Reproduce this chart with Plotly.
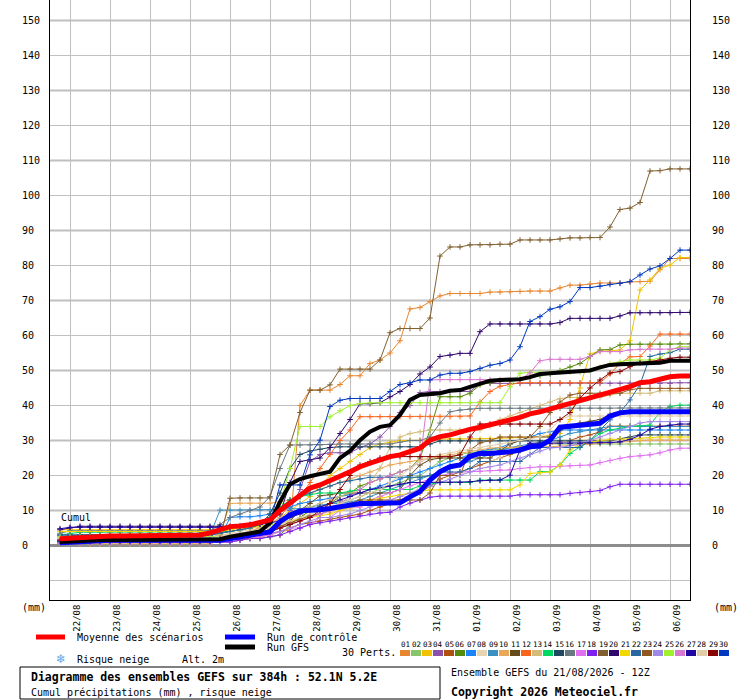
import datetime as dt
import plotly.graph_objects as go

# GEFS run 21/08/2026 12Z, one value every 6 h from +6h to +384h (64 steps)
RUN_START = dt.datetime(2026, 8, 21, 12)
STEP_H = 6
N_DAYS = 16

DAY_LABELS = ["22/08", "23/08", "24/08", "25/08", "26/08", "27/08", "28/08", "29/08",
              "30/08", "31/08", "01/09", "02/09", "03/09", "04/09", "05/09", "06/09"]
Y_TICKS = [0, 10, 20, 30, 40, 50, 60, 70, 80, 90, 100, 110, 120, 130, 140, 150]

mean_run = [1.9, 2.1, 2.3, 2.5, 2.6, 2.7, 2.7, 2.7, 2.7, 2.7, 2.7, 2.7, 2.7, 2.7, 3.0, 3.6,
            4.4, 5.4, 5.6, 5.9, 6.6, 7.3, 10.0, 12.0, 14.3, 16.4, 17.3, 18.7, 19.8, 21.1, 22.5, 23.5,
            24.4, 25.4, 25.9, 26.8, 27.8, 30.1, 31.1, 31.6, 32.5, 33.2, 33.8, 34.4, 35.1, 35.9, 36.6, 37.6,
            38.2, 39.0, 39.7, 40.6, 41.4, 42.0, 43.0, 43.9, 44.6, 45.4, 46.5, 46.8, 47.5, 48.2, 48.4, 48.4]
control_run = [0.8, 1.0, 1.2, 1.4, 1.5, 1.5, 1.5, 1.5, 1.5, 1.5, 1.5, 1.5, 1.5, 1.5, 1.5, 1.5,
               1.5, 2.0, 2.5, 3.0, 3.3, 3.9, 6.8, 8.7, 9.9, 10.0, 10.2, 10.6, 11.1, 11.6, 12.0, 12.0,
               12.0, 12.0, 12.2, 13.9, 15.4, 18.7, 21.1, 22.5, 23.0, 25.5, 26.3, 26.3, 26.5, 26.8, 27.3, 28.2,
               28.4, 30.1, 33.8, 34.1, 34.2, 34.4, 34.9, 37.0, 37.9, 38.2, 38.2, 38.2, 38.2, 38.2, 38.2, 38.2]
gfs_run = [1.0, 1.2, 1.4, 1.6, 1.6, 1.6, 1.6, 1.6, 1.6, 1.6, 1.6, 1.6, 1.6, 1.6, 1.6, 1.6,
           1.8, 2.5, 3.0, 3.5, 4.0, 6.4, 12.5, 17.5, 19.0, 19.8, 20.4, 21.1, 25.0, 27.0, 30.1, 32.5,
           33.9, 34.4, 37.3, 41.6, 43.0, 43.3, 43.5, 44.2, 44.4, 45.3, 46.1, 47.1, 47.3, 47.5, 47.5, 48.1,
           49.0, 49.2, 49.4, 49.5, 49.7, 50.0, 50.9, 51.6, 51.8, 51.9, 52.1, 52.1, 52.2, 52.8, 52.8, 52.8]

m01 = [0.5, 0.8, 1, 1, 1, 1, 1, 1, 1, 1, 1, 1, 1, 1, 1, 1,
       1.5, 2, 2, 2, 2.5, 3, 4, 4.4, 40, 44.4, 44.4, 44.4, 46, 48.5, 48.5, 52,
       53, 55, 58.5, 67.6, 68, 69.7, 71.3, 72, 72, 72, 72, 72.4, 72.4, 72.5, 72.6, 72.7,
       72.7, 72.7, 73.6, 74.4, 74.4, 74.7, 75, 75, 75, 75.3, 75.4, 75.5, 78.8, 82, 82, 82]
m02 = [1.5, 1.8, 2, 2, 2, 2, 2, 2, 2, 2, 2, 2, 2, 2, 2, 2,
       2, 2.5, 3, 3, 3.5, 4, 5, 6, 8, 10, 11, 12, 12.5, 13, 14, 15,
       16, 17, 18, 19, 20, 22, 24, 25, 26, 26.5, 27, 27.3, 27.5, 27.8, 28, 28.5,
       28.8, 29, 29, 29, 29, 29, 29, 29, 29, 29, 29, 29, 29, 29, 29, 29]
m03 = [4.5, 4.5, 4.5, 4.5, 4.5, 4.5, 4.5, 4.5, 4.5, 4.5, 4.5, 4.5, 4.5, 4.5, 4.5, 4.5,
       4.5, 4.5, 5, 5, 5.5, 6, 8, 10, 12, 14, 17, 20, 22, 24, 26, 28,
       29, 29.5, 30, 30, 30, 30.2, 30.4, 30.5, 30.5, 30.5, 30.5, 30.6, 30.6, 30.8, 30.8, 31,
       31, 31.5, 32, 36, 45, 54.7, 55.6, 55.6, 55.9, 58.5, 73, 75.9, 79.2, 80.1, 82.3, 82.3]
m04 = [1.8, 2, 2, 2, 2, 2, 2, 2, 2, 2, 2, 2, 2, 2, 2, 2,
       2, 2, 2.5, 3, 3.5, 4, 6, 10, 16, 24, 26, 26.5, 26.5, 26.5, 28, 29,
       31, 34, 38, 40, 43.7, 44, 44, 44, 44, 44, 46.3, 46.3, 46.3, 46.3, 46.3, 46.3,
       46.3, 46.3, 46.3, 46.3, 46.3, 46.3, 46.3, 46.3, 46.3, 46.3, 46.3, 46.3, 46.3, 46.3, 46.5, 46.5]
m05 = [1.2, 1.5, 1.5, 1.5, 1.5, 1.5, 1.5, 1.5, 1.5, 1.5, 1.5, 1.5, 1.5, 1.5, 1.5, 1.5,
       1.5, 2, 2, 2.5, 3, 3.5, 4, 5, 6, 6.5, 7, 7.5, 8, 8.5, 9, 10,
       11, 12, 13, 14, 15, 17, 19, 20, 21, 22, 23, 24, 25, 26, 27, 28,
       28.5, 29, 29.5, 30, 31, 31.6, 32.5, 34.1, 34.1, 34.1, 34.1, 34.1, 34.1, 34.1, 34.1, 34.1]
m06 = [0.5, 0.8, 1, 1, 1, 1, 1, 1, 1, 1, 1, 1, 1, 1, 1, 1,
       1, 1, 1.5, 2, 2, 2.5, 3, 6, 8, 10, 11, 12, 14, 15, 17, 18,
       19, 20, 21, 22, 25, 33, 42.5, 42.5, 42.5, 43.5, 45.9, 46.5, 47, 47, 47.5, 48,
       48.5, 49, 50, 51, 52, 54, 55.9, 56, 57.3, 57.5, 57.5, 57.5, 57.5, 57.5, 57.6, 57.6]
m07 = [1, 1.2, 1.2, 1.2, 1.2, 1.2, 1.2, 1.2, 1.2, 1.2, 1.2, 1.2, 1.2, 1.2, 1.2, 1.2,
       2, 8, 8.2, 8.2, 8.5, 9, 10, 11, 12, 12.5, 13, 13.5, 14, 14.5, 15, 16,
       17, 18, 19, 20, 21, 22, 23, 24, 25, 26, 27, 27.5, 28, 29, 30.1, 31,
       32, 32.5, 33, 33, 33, 33, 33, 33, 33, 33, 33, 33, 33, 33, 33, 33]
m08 = [2.5, 2.8, 3, 3, 3, 3, 3, 3, 3, 3, 3, 3, 3, 3, 3, 3,
       3, 3.5, 4, 4.5, 5, 5.5, 6, 7, 8, 8.5, 9, 9.5, 10, 10.5, 11, 12,
       13, 13, 14, 14, 17, 19, 20, 20, 20, 22, 24, 24, 25, 27, 27, 28,
       28.5, 29, 29.5, 30, 30.2, 30.4, 30.4, 30.4, 30.4, 30.4, 30.4, 30.4, 30.4, 30.4, 30.4, 30.4]
m09 = [2.5, 2.8, 3, 3, 3, 3, 3, 3, 3, 3, 3, 3, 3, 3, 3, 3,
       10.1, 10.1, 10.1, 10.1, 10.1, 10.1, 10.3, 10.5, 10.5, 11, 11.5, 12, 12, 12.5, 13, 14,
       15, 16, 17, 18, 19, 20, 21, 22, 23, 24, 25, 26, 27, 28, 28.5, 29,
       29.5, 30, 31, 32, 32.5, 33, 33.5, 34, 34, 34, 34, 34, 34, 34, 34, 34]
m10 = [1, 0.8, 0.5, 0.5, 0.5, 0.5, 0.5, 0.5, 0.5, 0.5, 0.5, 0.5, 0.5, 0.5, 0.5, 0.5,
       3, 12, 12.1, 12.1, 12.1, 12.1, 12.5, 13, 14, 15, 16, 17, 18, 19, 20, 21,
       22, 23, 23.5, 24, 24.5, 25, 25.5, 26, 26.5, 27, 27.5, 27.8, 28, 28, 28.1, 28.2,
       28.2, 28.2, 28.4, 28.6, 28.8, 29, 29.2, 29.4, 29.6, 29.8, 30, 30.1, 30.1, 30.1, 30.1, 30.1]
m11 = [1, 1, 1, 1, 1, 1, 1, 1, 1, 1, 1, 1, 1, 1, 1, 1,
       1.5, 2, 2.5, 3, 3.5, 4, 5, 7, 10, 12, 14.2, 14.5, 15, 15, 15, 15,
       15, 15, 16, 20, 23, 24.5, 25, 25, 25, 25, 25, 25, 27, 29, 30, 31,
       31, 31, 33, 34, 35, 35.5, 36, 37.5, 37.8, 38, 38, 38, 38, 38, 38, 38]
m12 = [2, 2, 2, 2, 2, 2, 2, 2, 2, 2, 2, 2, 2, 2, 2, 2,
       2, 2.5, 3, 4, 5, 6, 8, 12, 14, 18, 22, 26, 30, 33, 36.8, 36.8,
       36.8, 36.8, 36.8, 36.8, 36.8, 36.8, 36.8, 36.8, 36.8, 37, 41, 44, 45.5, 46, 46.5, 46.5,
       46.5, 46.5, 46.5, 46.5, 46.5, 46.5, 46.5, 49, 52, 53.9, 54, 57, 60.4, 60.4, 60.4, 60.4]
m13 = [2.2, 2.5, 2.5, 2.5, 2.5, 2.5, 2.5, 2.5, 2.5, 2.5, 2.5, 2.5, 2.5, 2.5, 2.5, 2.5,
       3, 3, 3.5, 4, 5, 6, 8, 9, 10, 11, 12, 13, 14, 15, 16, 18,
       22, 28, 31, 32, 32.5, 33, 33, 33, 33, 33, 33, 34, 36, 37, 38, 39,
       40, 41, 42, 42.3, 42.3, 42.3, 42.3, 43, 43.5, 43.5, 43.5, 43.5, 44.2, 44.2, 44.2, 44.2]
m14 = [3, 3.5, 3.8, 3.8, 3.8, 3.8, 3.8, 3.8, 3.8, 3.8, 3.8, 3.8, 3.8, 3.8, 3.8, 3.8,
       4, 4, 4.5, 5, 6, 8, 11, 13, 14, 14.5, 15, 15, 15, 15.5, 16, 16,
       16, 16, 16, 16, 17, 17.5, 18, 18, 18, 18, 18.7, 18.7, 18.7, 18.7, 18.7, 18.7,
       21.1, 21.1, 23, 26.3, 28.2, 30.1, 32, 33, 33.5, 34, 34.2, 34.4, 38.2, 39.7, 40.1, 40.1]
m15 = [3, 3, 3, 3, 3, 3, 3, 3, 3, 3, 3, 3, 3, 3, 3, 3,
       3.5, 4, 4.5, 5, 6, 9, 15, 22, 26, 27, 27.5, 28, 28.2, 28.2, 28.2, 28.2,
       28.2, 28.2, 28.2, 28.2, 28.2, 29, 29.9, 29.9, 29.9, 29.9, 29.9, 29.9, 29.9, 29.9, 29.9, 29.9,
       29.9, 29.9, 29.9, 29.9, 29.9, 29.9, 29.9, 29.9, 30.5, 31, 31.6, 31.6, 31.6, 31.6, 31.6, 31.6]
m16 = [3.5, 4.2, 4.2, 4.2, 4.2, 4.2, 4.2, 4.2, 4.2, 4.2, 4.2, 4.2, 4.2, 4.2, 4.2, 4.2,
       6, 8, 9, 10, 11, 14, 22, 28.7, 28.7, 28.7, 28.7, 28.9, 29, 29, 29, 29,
       29, 29, 29.5, 30, 30, 31, 35, 38.2, 38.7, 39, 39.2, 39.2, 39.2, 39.2, 39.2, 39.2,
       39.2, 39.2, 39.2, 39.2, 39.2, 39.2, 39.2, 39.2, 39.3, 39.3, 39.3, 39.3, 39.3, 39.3, 39.3, 39.3]
m17 = [0.5, 0.8, 0.8, 0.8, 0.8, 0.8, 0.8, 0.8, 0.8, 0.8, 0.8, 0.8, 0.8, 0.8, 0.8, 0.8,
       1, 1, 1.5, 2, 2.5, 3, 4, 5, 5, 6, 8, 8, 10, 11, 11, 13,
       14, 15, 16, 17, 18, 19, 20, 20.5, 21, 21.1, 21.2, 21.4, 21.6, 21.6, 22, 22.3,
       22.5, 22.5, 22.7, 22.8, 22.9, 23, 23.7, 24.3, 24.9, 25.4, 25.6, 25.9, 26.5, 27.3, 27.8, 27.8]
m18 = [1, 1, 1, 1, 1, 1, 1, 1, 1, 1, 1, 1, 1, 1, 1, 1,
       1, 1, 1.5, 2, 2, 2.5, 3, 4, 5, 6, 6.5, 7, 7.5, 8, 8.5, 9,
       9.3, 9.5, 11, 12.1, 13, 13.8, 14.1, 14.1, 14.1, 14.1, 14.1, 14.1, 14.1, 14.1, 14.5, 14.5,
       14.5, 14.5, 14.5, 14.9, 15.1, 15.4, 15.7, 16.8, 17.5, 17.5, 17.5, 17.5, 17.5, 17.5, 17.5, 17.5]
m19 = [1.5, 1.5, 1.5, 1.5, 1.5, 1.5, 1.5, 1.5, 1.5, 1.5, 1.5, 1.5, 1.5, 1.5, 1.5, 1.5,
       2, 13.5, 13.6, 13.6, 13.6, 13.6, 26, 28.7, 38, 44.4, 44.4, 45.9, 50.4, 50.4, 50.4, 50.4,
       53, 60.8, 62, 62, 62, 65, 82.7, 85.3, 85.3, 85.9, 85.9, 85.9, 86.1, 86.1, 87.3, 87.3,
       87.3, 87.3, 87.6, 87.9, 87.9, 88, 88, 91, 96, 96.4, 98, 107, 107.1, 107.6, 107.6, 107.6]
m20 = [4.5, 5, 5.5, 5.5, 5.5, 5.5, 5.5, 5.5, 5.5, 5.5, 5.5, 5.5, 5.5, 5.5, 5.5, 5.5,
       5.5, 5.5, 5.5, 6, 6.5, 7, 9, 18, 24, 24.5, 25, 28, 32, 36, 40.5, 40.5,
       40.8, 42.5, 44, 46, 49, 51, 54, 54.4, 54.9, 54.9, 61.1, 63.3, 63.3, 63.3, 63.3, 63.3,
       63.3, 63.3, 63.7, 64.9, 64.9, 64.9, 64.9, 64.9, 65.6, 66.5, 66.5, 66.5, 66.5, 66.5, 66.6, 66.6]
m21 = [4, 4, 4, 4, 4, 4, 4, 4, 4, 4, 4, 4, 4, 4, 4, 4,
       4, 4.5, 5, 5, 5.5, 6, 6.5, 7, 7.5, 8, 8.5, 9, 10, 11, 12, 13,
       13.5, 14, 14.5, 15, 15.5, 15.9, 15.9, 15.9, 15.9, 15.9, 15.9, 15.9, 15.9, 15.9, 17.3, 20.6,
       20.8, 21, 23, 27.3, 29, 29.5, 30, 30.2, 30.4, 30.5, 30.6, 30.8, 31, 31, 31, 31]
m22 = [3, 3, 3, 3, 3, 3, 3, 3, 3, 3, 3, 3, 3, 3, 3, 3,
       3.5, 4, 4.5, 5, 6, 8, 10, 13, 14, 15, 16, 17, 18, 18.5, 19, 19.5,
       19.5, 19.5, 19.5, 19.5, 19.5, 20, 21, 21, 21, 22, 24, 24, 24, 24, 24, 26,
       28, 28, 28, 28, 28, 30, 33, 35.9, 38, 41.6, 46, 54, 54.7, 55.1, 56.1, 56.1]
m23 = [1.5, 1.5, 1.5, 1.5, 1.5, 1.5, 1.5, 1.5, 1.5, 1.5, 1.5, 1.5, 1.5, 1.5, 1.5, 1.5,
       2, 2, 2.5, 3, 3.5, 4.5, 5.5, 6.5, 7.5, 8.5, 9, 10, 11, 12, 13, 13,
       13, 13, 13, 13, 13, 15, 20, 20, 20, 27.3, 29.3, 30, 31, 31, 31, 31,
       34, 38, 41, 43, 43.5, 43.5, 43.5, 43.5, 43.5, 44.5, 44.9, 44.9, 44.9, 44.9, 44.9, 44.9]
m24 = [1, 1, 1, 1, 1, 1, 1, 1, 1, 1, 1, 1, 1, 1, 1, 1,
       1, 1.5, 2, 2.5, 3, 3.5, 4, 5, 6, 7, 8, 8, 8.5, 9, 10, 11,
       12, 13, 14, 15, 16, 17, 18, 19, 20, 21, 22, 22.5, 23, 24, 25, 26,
       27, 27.9, 28, 28.5, 29, 30, 31, 32, 33, 34, 35, 35.4, 35.4, 35.4, 35.4, 35.4]
m25 = [2.5, 2.5, 2.5, 2.5, 2.5, 2.5, 2.5, 2.5, 2.5, 2.5, 2.5, 2.5, 2.5, 2.5, 2.5, 2.5,
       2.5, 2.5, 3, 3, 4, 6, 12, 22, 34, 34, 34, 36.8, 38.5, 40, 40.6, 40.8,
       40.8, 40.8, 40.8, 40.8, 40.8, 40.8, 40.8, 40.8, 40.8, 40.8, 40.8, 40.8, 40.8, 45.4, 49.2, 49.5,
       49.5, 49.5, 49.5, 49.5, 49.5, 50, 51, 52, 52.5, 53, 53, 53, 53.5, 55.9, 56.8, 56.8]
m26 = [1.5, 1.5, 1.5, 1.5, 1.5, 1.5, 1.5, 1.5, 1.5, 1.5, 1.5, 1.5, 1.5, 1.5, 1.5, 1.5,
       2, 2, 2, 2.5, 3, 4, 5, 6, 7, 8, 9, 10, 12, 14, 16, 18,
       19, 20, 21, 22, 24, 47.3, 47.4, 47.4, 47.4, 47.4, 47.4, 47.4, 47.4, 47.4, 47.4, 49.3,
       52.8, 53.2, 53.2, 53.2, 53.2, 54, 55.4, 55.4, 55.4, 55.9, 56.1, 56.1, 56.1, 56.1, 56.4, 56.4]
m27 = [4.8, 5.2, 5.2, 5.2, 5.2, 5.2, 5.2, 5.2, 5.2, 5.2, 5.2, 5.2, 5.2, 5.2, 5.2, 5.2,
       5.2, 5.2, 5.5, 6, 6, 6.5, 7, 8, 9, 10, 11, 12, 13, 14, 15, 16,
       16.5, 17, 17.5, 18, 18, 18, 18, 18, 18, 18.2, 18.5, 18.7, 18.7, 20.1, 27.3, 29.2,
       29.2, 29.2, 29.2, 29.2, 29.2, 29.3, 29.4, 29.4, 29.6, 30.3, 31.5, 33.2, 34, 34.4, 34.7, 34.7]
m28 = [2, 2, 2, 2, 2, 2, 2, 2, 2, 2, 2, 2, 2, 2, 2, 2,
       2.5, 3, 3.5, 4, 4.5, 5, 6, 7, 8, 9, 10, 11, 12, 13, 14, 15,
       16, 18, 20, 22, 24, 25, 26, 26.5, 27, 27.5, 28, 28.5, 29, 29.5, 30, 30.5,
       31, 33, 36, 37, 37, 37, 37, 37, 37, 37, 37, 37, 37, 37, 37, 37]
m29 = [1.5, 1.5, 1.5, 1.5, 1.5, 1.5, 1.5, 1.5, 1.5, 1.5, 1.5, 1.5, 1.5, 1.5, 1.5, 1.5,
       2, 2, 2.5, 3, 3.5, 4, 5, 6, 7, 8, 10, 12, 16, 20, 23, 24,
       25, 25.4, 25.4, 25.4, 25.4, 25.4, 25.4, 25.4, 25.9, 31, 34.7, 34.7, 34.7, 34.7, 34.7, 34.7,
       34.7, 34.7, 36, 38, 42.1, 45, 47.3, 49.3, 49.7, 51.1, 52.2, 52.5, 53, 53.5, 53.8, 53.8]
m30 = [1.2, 1.2, 1.2, 1.2, 1.2, 1.2, 1.2, 1.2, 1.2, 1.2, 1.2, 1.2, 1.2, 1.2, 1.2, 1.2,
       1.5, 1.5, 2, 3, 4, 6.4, 17.3, 17.3, 17.3, 25.9, 30.1, 39.7, 41.5, 42, 42, 42,
       42, 44, 46, 46.5, 47.3, 47.3, 48.7, 49.2, 49.2, 49.7, 50.6, 51.5, 52, 53, 56.8, 64,
       65.4, 67.5, 68.2, 69.7, 73.7, 73.7, 74.1, 74.6, 74.9, 75.4, 77.3, 79, 79.9, 82, 84.4, 84.4]

members = [m01, m02, m03, m04, m05, m06, m07, m08, m09, m10, m11, m12, m13, m14, m15,
           m16, m17, m18, m19, m20, m21, m22, m23, m24, m25, m26, m27, m28, m29, m30]
MEMBER_COLOURS = ["#E8862F", "#88C46A", "#F2C200", "#8C50A8", "#B0500E", "#568A0A",
                  "#1A84F8", "#E8D4B0", "#3A90C0", "#E8A858", "#664C1C", "#F8661E",
                  "#D4BC78", "#00D860", "#204860", "#687880", "#E070F0", "#8020F0",
                  "#806030", "#30086C", "#F0D800", "#2868A0", "#905820", "#A088E8",
                  "#A0F030", "#D878D0", "#2008A0", "#E0CCA8", "#880000", "#0038C0"]

MONO = "DejaVu Sans Mono"
W, H = 740, 700
L, R, T, B = 50, 50, 0, 100
PW, PH = W - L - R, H - T - B


def px(x):
    return (x - L) / PW


def py(y):
    return (H - B - y) / PH


def times(n):
    return [RUN_START + dt.timedelta(hours=STEP_H * (k + 1)) for k in range(n)]


fig = go.Figure()

for vals, col in zip(members, MEMBER_COLOURS):
    fig.add_trace(go.Scatter(
        x=times(len(vals)), y=vals, mode="lines+markers",
        line=dict(color=col, width=1),
        marker=dict(symbol="cross-thin", size=4, line=dict(color=col, width=1)),
        hoverinfo="skip", showlegend=False))

fig.add_trace(go.Scatter(x=times(len(control_run)), y=control_run, mode="lines",
                         line=dict(color="#0000FF", width=5), showlegend=False))
fig.add_trace(go.Scatter(x=times(len(gfs_run)), y=gfs_run, mode="lines",
                         line=dict(color="#000000", width=4), showlegend=False))
fig.add_trace(go.Scatter(x=times(len(mean_run)), y=mean_run, mode="lines",
                         line=dict(color="#FF0000", width=5), showlegend=False))

days = [RUN_START + dt.timedelta(hours=12) + dt.timedelta(days=k) for k in range(N_DAYS)]
label_pos = [d + dt.timedelta(hours=4, minutes=20) for d in days]

fig.update_layout(
    width=W, height=H, autosize=False,
    margin=dict(l=L, r=R, t=T, b=B),
    paper_bgcolor="white", plot_bgcolor="white",
    font=dict(family=MONO, size=10, color="black"),
    xaxis=dict(
        type="date",
        range=[RUN_START, RUN_START + dt.timedelta(days=N_DAYS)],
        tickmode="array", tickvals=label_pos, ticktext=DAY_LABELS,
        tickangle=-90, tickfont=dict(family=MONO, size=9, color="black"),
        ticks="", showgrid=False, zeroline=False,
        showline=True, linecolor="black", linewidth=1,
        minor=dict(tickmode="array", tickvals=days, showgrid=True,
                   gridcolor="#c0c0c0", gridwidth=1, ticks=""),
    ),
    yaxis=dict(
        range=[-15.57, 155.86], tick0=0, dtick=10,
        showgrid=True, gridcolor="#c0c0c0", gridwidth=1,
        showticklabels=False, ticks="",
        zeroline=True, zerolinecolor="#8c8c8c", zerolinewidth=3,
        showline=True, linecolor="black", linewidth=1, mirror=True,
    ),
)

# thicker grid lines on the odd tens
for v in Y_TICKS:
    if v % 20 == 10:
        fig.add_shape(type="line", xref="paper", x0=0, x1=1, yref="y", y0=v, y1=v,
                      line=dict(color="#c0c0c0", width=2), layer="below")

ann = []
for v in Y_TICKS:
    ann.append(dict(x=px(20), y=v, xref="paper", yref="y", text=str(v),
                    xanchor="left", yanchor="middle", showarrow=False))
    ann.append(dict(x=px(710), y=v, xref="paper", yref="y", text=str(v),
                    xanchor="left", yanchor="middle", showarrow=False))


def label(x, y, text, size=10, color="black", family=MONO):
    ann.append(dict(x=px(x), y=py(y), xref="paper", yref="paper", text=text,
                    xanchor="left", yanchor="middle", showarrow=False,
                    font=dict(family=family, size=size, color=color)))


label(20, 607, "(mm)")
label(712, 607, "(mm)")
label(59, 517, "Cumul")

# legend: lines
for x0, x1, y, col in [(36, 65, 637, "#FF0000"), (225, 255, 637, "#0000FF"),
                       (225, 255, 647, "#000000")]:
    fig.add_shape(type="line", xref="paper", yref="paper", x0=px(x0), x1=px(x1),
                  y0=py(y), y1=py(y), line=dict(color=col, width=5))
label(75, 637, "Moyenne des scénarios")
label(265, 637, "Run de contrôle")
label(265, 647, "Run GFS")
label(54, 659, "❄", size=12, color="#5AAAE6", family="DejaVu Sans")
label(75, 659, "Risque neige")
label(180, 659, "Alt. 2m")
label(340, 652, "30 Perts.")

# member colour chips
for k, col in enumerate(MEMBER_COLOURS):
    x0 = 400 + 11 * k
    fig.add_shape(type="rect", xref="paper", yref="paper",
                  x0=px(x0), x1=px(x0 + 10), y0=py(650), y1=py(656),
                  fillcolor=col, line=dict(width=0))
    ann.append(dict(x=px(x0 + 5), y=py(644), xref="paper", yref="paper",
                    text=f"{k + 1:02d}", xanchor="center", yanchor="middle",
                    showarrow=False, font=dict(family=MONO, size=7.5, color="black")))

# title box
fig.add_shape(type="rect", xref="paper", yref="paper",
              x0=px(20), x1=px(440), y0=py(667), y1=py(699),
              line=dict(color="black", width=1), fillcolor="white")
label(29, 677, "<b>Diagramme des ensembles GEFS sur 384h : 52.1N 5.2E</b>", size=11.5)
label(29, 692, "Cumul précipitations (mm) , risque neige")
label(449, 672, "Ensemble GEFS du 21/08/2026 - 12Z")
label(449, 692, "<b>Copyright 2026 Meteociel.fr</b>", size=11.5)

fig.update_layout(annotations=ann)
# page without the default body margin so the chart sits at the window's corner
fig.write_html("out.html", config={"displayModeBar": False},
               post_script="document.body.style.margin='0';document.body.style.overflow='hidden';")
